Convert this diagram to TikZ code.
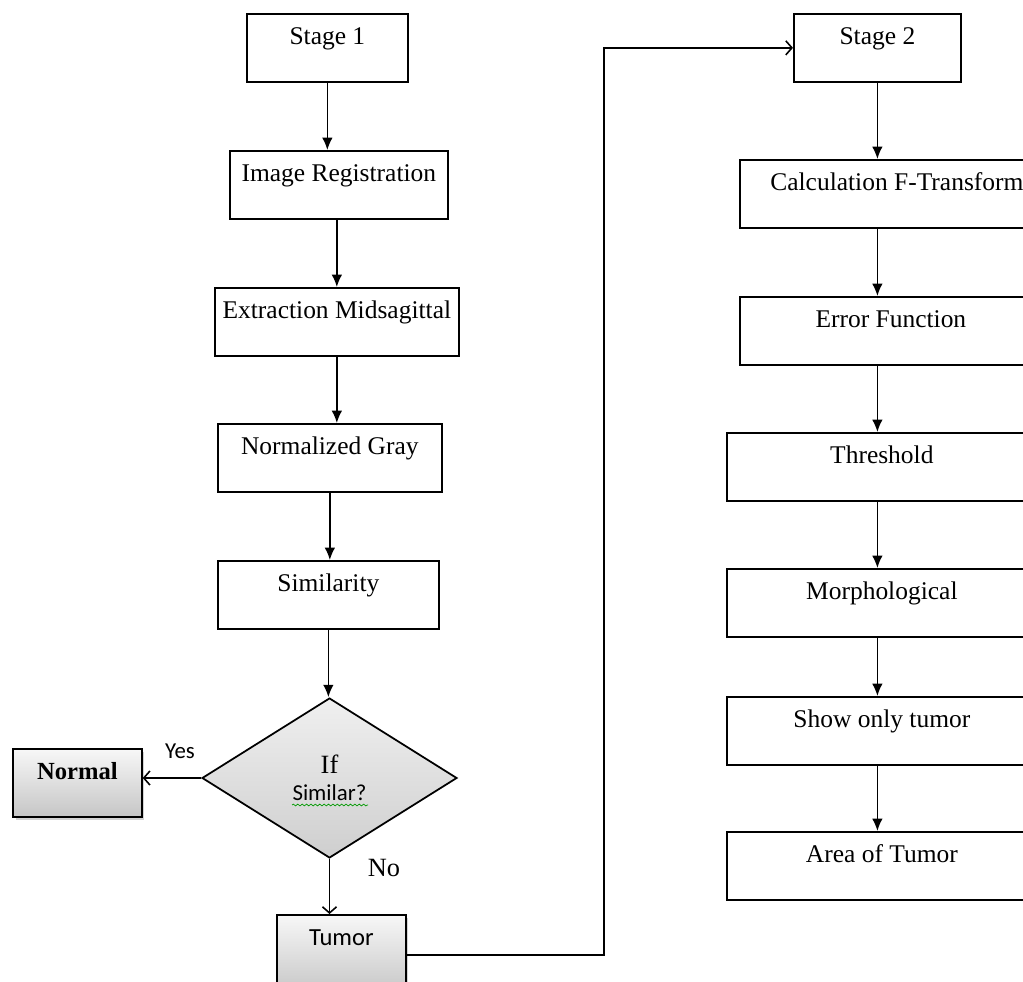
\documentclass[tikz,border=0pt]{standalone}
\usepackage{fontspec}
\setmainfont{Liberation Serif}
\newfontfamily\calfont{Carlito}
\usetikzlibrary{arrows.meta}
\usetikzlibrary{shapes.geometric}
\usetikzlibrary{shadows}
\usetikzlibrary{decorations.pathmorphing}

\tikzset{
  stepbox/.style={draw, line width=1pt, anchor=north west, inner sep=0pt,
    minimum height=1.36cm, text height=0.62cm, text depth=0.74cm,
    font=\fontsize{14.5}{17}\selectfont},
  graybox/.style={stepbox, top color=gray!6, bottom color=gray!45,
    drop shadow={shadow xshift=1.5pt, shadow yshift=-1.5pt, opacity=0.35}},
  flow/.style={-{Latex[length=7pt,width=6pt]}, line width=0.9pt},
  open/.style={-{Straight Barb[length=3.5pt,width=8pt]}, line width=0.9pt},
}

\begin{document}
\begin{tikzpicture}[x=0.02cm, y=-0.02cm]
  \useasboundingbox (0,0) rectangle (1023,982);
  \clip (0,0) rectangle (1023,982);

  % stage 1
  \node [stepbox, minimum width=3.22cm] (stage1) at (246,13) {Stage 1};
  \node [stepbox, minimum width=4.36cm] (imgreg) at (229,150) {Image Registration};
  \node [stepbox, minimum width=4.88cm] (extract) at (214,287) {Extraction Midsagittal};
  \node [stepbox, minimum width=4.48cm] (normgray) at (217,423) {Normalized Gray};
  \node [stepbox, minimum width=4.42cm] (simil) at (217,560) {Similarity};
  \node [diamond, draw, line width=1pt, top color=gray!12, bottom color=gray!38,
    minimum width=5.1cm, minimum height=3.2cm, inner sep=0pt, align=center,
    font=\fontsize{15}{15.3}\selectfont]
    (decide) at (329.5,778) {If\\{\calfont\fontsize{13}{15.3}\selectfont Similar?}};
  \draw [green!60!black, decorate, decoration={snake, amplitude=0.5pt, segment length=2.5pt}]
    (292,805) -- (368,805);
  \node [graybox, minimum width=2.58cm, font=\bfseries\fontsize{14}{17}\selectfont] (normal) at (12,748) {Normal};
  \node [graybox, minimum width=2.58cm, minimum height=1.6cm, text depth=0.98cm,
    font=\calfont\fontsize{14}{17}\selectfont] (tumor) at (276,914) {Tumor};
  \node [font=\calfont\fontsize{13}{15}\selectfont] (yes) at (180,751) {Yes};
  \node [font=\fontsize{15}{18}\selectfont] (no) at (384,868) {No};

  % stage 2
  \node [stepbox, minimum width=3.34cm] (stage2) at (793,13) {Stage 2};
  \node [stepbox, minimum width=6.28cm] (calc) at (739,159) {Calculation F-Transform};
  \node [stepbox, minimum width=6.04cm] (errfn) at (739,296) {Error Function};
  \node [stepbox, minimum width=6.2cm] (thresh) at (726,432) {Threshold};
  \node [stepbox, minimum width=6.2cm] (morph) at (726,568) {Morphological};
  \node [stepbox, minimum width=6.2cm] (showtum) at (726,696) {Show only tumor};
  \node [stepbox, minimum width=6.2cm] (area) at (726,831) {Area of Tumor};

  % connectors
  \draw [flow] (stage1.south) -- (stage1.south |- imgreg.north);
  \draw [flow] (imgreg.south -| extract.south) -- (extract.north);
  \draw [flow] (extract.south) -- (extract.south |- normgray.north);
  \draw [flow] (normgray.south) -- (normgray.south |- simil.north);
  \draw [flow] (simil.south) -- (simil.south |- decide.north);
  \draw [open] (decide.west) -- (decide.west -| normal.east);
  \draw [open] (decide.south) -- (decide.south |- tumor.north);
  \draw [open] (tumor.east) -- ++(197,0) |- (stage2.west);

  \draw [flow] (stage2.south) -- (stage2.south |- calc.north);
  \draw [flow] (calc.south -| stage2.south) -- (errfn.north -| stage2.south);
  \draw [flow] (errfn.south -| stage2.south) -- (thresh.north -| stage2.south);
  \draw [flow] (thresh.south -| stage2.south) -- (morph.north -| stage2.south);
  \draw [flow] (morph.south -| stage2.south) -- (showtum.north -| stage2.south);
  \draw [flow] (showtum.south -| stage2.south) -- (area.north -| stage2.south);
\end{tikzpicture}
\end{document}
